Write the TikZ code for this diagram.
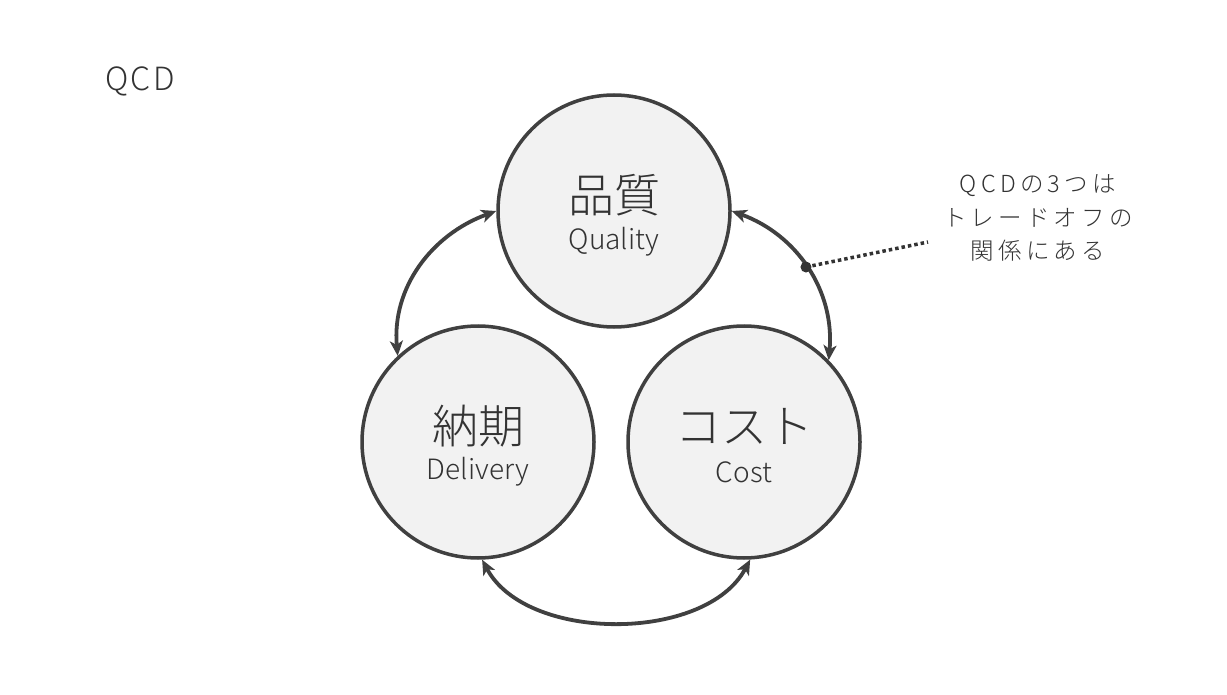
\documentclass[tikz,border=0pt]{standalone}
\usepackage{fontspec}
\setmainfont{Noto Sans CJK JP}[UprightFont=* Light]
\usetikzlibrary{arrows.meta}
\definecolor{ink}{HTML}{404040}
\definecolor{txt}{HTML}{333333}
\definecolor{disk}{HTML}{F2F2F2}
\begin{document}
\begin{tikzpicture}[x=1pt,y=-1pt,
  ball/.style={circle,draw=ink,fill=disk,line width=3.5pt,minimum size=232pt,inner sep=0pt},
  jp/.style={text=txt,font=\fontsize{46}{50}\selectfont,inner sep=0pt},
  en/.style={text=txt,font=\fontsize{28}{32}\selectfont,inner sep=0pt},
  link/.style={draw=ink,line width=3.8pt,{Stealth[length=15pt,width=13pt,inset=4pt]}-{Stealth[length=15pt,width=13pt,inset=4pt]}},
  dotline/.style={draw=ink!80!black,line width=3.5pt,dash pattern=on 3.5pt off 3pt},
  note/.style={text=txt,align=center,inner sep=0pt,font=\fontsize{23.5}{33.5}\selectfont\addfontfeature{LetterSpace=18}}]
\useasboundingbox[fill=white] (0,0) rectangle (1227,695);
\node[text=txt,font=\fontsize{32}{36}\selectfont\addfontfeature{LetterSpace=7},inner sep=0pt] (title) at (140,81) {QCD};
\node[ball] (Q) at (614,211) {};
\node[ball] (D) at (478,442) {};
\node[ball] (C) at (744,442) {};
\node[jp] (Qj) at (614,195) {品質};
\node[en] (Qe) at (614,242) {Quality};
\node[jp] (Dj) at (478,426) {納期};
\node[en] (De) at (478,472) {Delivery};
\node[jp] (Cj) at (744,426) {コスト};
\node[en] (Ce) at (744,472) {Cost};
\draw[link] (D.133) to[out=95,in=200] (Q.west);
\draw[link] (Q.east) to[out=-20,in=85] coordinate[pos=0.49] (dot) (C.44);
\draw[link] (D.-88) to[out=-62,in=-118,looseness=0.9] (C.-87);
\coordinate (ann) at (928,242);
\draw[dotline] (dot) -- (ann);
\fill[ink!80!black] (dot) circle (5.5pt);
\node[note] (N) at (1038,218) {QCDの3つは\\トレードオフの\\関係にある};
\end{tikzpicture}
\end{document}
